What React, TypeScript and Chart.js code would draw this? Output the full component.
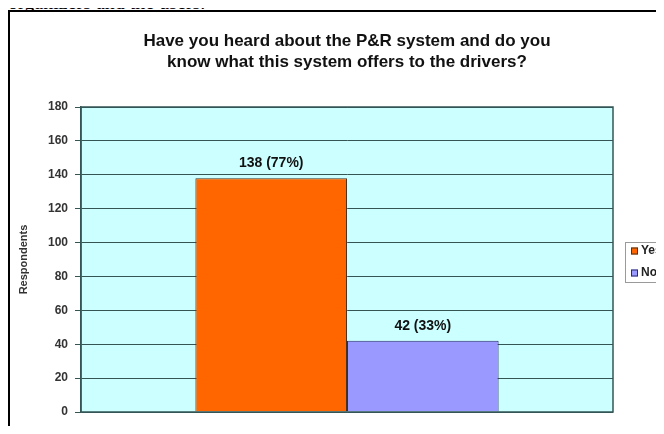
import { useEffect, useRef } from "react";
import { Chart, registerables } from "chart.js";

Chart.register(...registerables);

const categories = [""];
const seriesNames = ["Yes", "No"];
const yesValues = [138];
const noValues = [42];
const percentLabels = ["77%", "33%"];
const titleLines = [
  "Have you heard about the P&R system and do you",
  "know what this system offers to the drivers?",
];
const yAxisTitle = "Respondents";
const yMin = 0;
const yMax = 180;
const yStep = 20;

const FONT = "'Liberation Sans', Arial, sans-serif";
const seriesColors = ["#ff6600", "#9999ff"];
const seriesBorders = ["#4a3320", "#2a2a6a"];
const GRID = "#355555";

const decorPlugin = {
  id: "decor",
  beforeDraw(chart: any) {
    const { ctx, chartArea: a } = chart;
    ctx.save();
    ctx.fillStyle = "#ccffff";
    ctx.fillRect(a.left, a.top, a.right - a.left, a.bottom - a.top);
    ctx.restore();
  },
  afterDatasetsDraw(chart: any) {
    const { ctx, chartArea: a } = chart;
    ctx.save();
    // plot frame
    ctx.strokeStyle = GRID;
    ctx.lineWidth = 1.5;
    ctx.strokeRect(a.left, a.top, a.right - a.left, a.bottom - a.top);
    // title
    const cx = (a.left + a.right) / 2;
    ctx.fillStyle = "#111";
    ctx.font = `bold 17px ${FONT}`;
    ctx.textAlign = "center";
    ctx.textBaseline = "middle";
    titleLines.forEach((t, i) => ctx.fillText(t, cx, 29 + i * 21));
    // data labels
    ctx.font = `bold 14px ${FONT}`;
    ctx.textBaseline = "bottom";
    chart.data.datasets.forEach((ds: any, di: number) => {
      const meta = chart.getDatasetMeta(di);
      meta.data.forEach((bar: any, i: number) => {
        const label = `${ds.data[i]} (${percentLabels[di]})`;
        ctx.fillText(label, bar.x, bar.y - 8);
      });
    });
    // legend
    const lx = a.right + 12;
    const ly = a.top + 135;
    ctx.strokeStyle = "#9a9a9a";
    ctx.lineWidth = 1;
    ctx.strokeRect(lx + 0.5, ly + 0.5, 80, 40);
    ctx.font = `bold 12px ${FONT}`;
    ctx.textAlign = "left";
    ctx.textBaseline = "middle";
    chart.data.datasets.forEach((ds: any, di: number) => {
      const y = ly + 9 + di * 22;
      ctx.fillStyle = ds.backgroundColor;
      ctx.fillRect(lx + 6, y - 3.5, 7, 7);
      ctx.strokeStyle = ds.borderColor;
      ctx.strokeRect(lx + 6.5, y - 3, 6, 6);
      ctx.fillStyle = "#222";
      ctx.fillText(ds.label, lx + 16, y);
    });
    ctx.restore();
  },
};

export default function App() {
  const ref = useRef<HTMLCanvasElement | null>(null);
  useEffect(() => {
    if (!ref.current) return;
    const chart = new Chart(ref.current, {
      type: "bar",
      data: {
        labels: categories,
        datasets: [
          {
            label: seriesNames[0],
            data: yesValues,
            backgroundColor: seriesColors[0],
            borderColor: seriesBorders[0],
            borderWidth: 1,
          },
          {
            label: seriesNames[1],
            data: noValues,
            backgroundColor: seriesColors[1],
            borderColor: seriesBorders[1],
            borderWidth: 1,
          },
        ],
      },
      options: {
        animation: false,
        responsive: false,
        maintainAspectRatio: false,
        layout: { padding: { top: 95, right: 51, bottom: 22, left: 0 } },
        datasets: { bar: { barPercentage: 1, categoryPercentage: 0.57 } },
        plugins: {
          legend: { display: false },
          title: { display: false },
          tooltip: { enabled: false },
        },
        scales: {
          x: { display: false },
          y: {
            min: yMin,
            max: yMax,
            ticks: {
              stepSize: yStep,
              padding: 7,
              color: "#333",
              font: { family: FONT, size: 12, weight: "bold" },
            },
            grid: { color: GRID, lineWidth: 1, tickLength: 6, drawTicks: true },
            border: { display: true, color: GRID, width: 1.5 },
            title: {
              display: true,
              text: yAxisTitle,
              color: "#333",
              font: { family: FONT, size: 11, weight: "bold" },
              padding: { top: 7, bottom: 0 },
            },
            afterFit: (scale: any) => {
              scale.width = 71;
            },
          },
        },
      },
      plugins: [decorPlugin],
    } as any);
    return () => chart.destroy();
  }, []);

  return (
    <div style={{ position: "relative", margin: -8, width: 664, height: 434, overflow: "hidden", background: "#fff" }}>
      <div
        style={{
          position: "absolute",
          left: 8,
          top: -8,
          font: "20px 'Liberation Serif', 'Times New Roman', serif",
          lineHeight: "20px",
          whiteSpace: "nowrap",
          color: "#000",
        }}
      >
        organizers and the users.
      </div>
      <div
        style={{
          position: "absolute",
          left: 8,
          top: 10,
          width: 700,
          height: 500,
          border: "2px solid #000",
          background: "#fff",
        }}
      >
        <canvas ref={ref} width={654} height={422} style={{ display: "block", width: 654, height: 422 }} />
      </div>
    </div>
  );
}
